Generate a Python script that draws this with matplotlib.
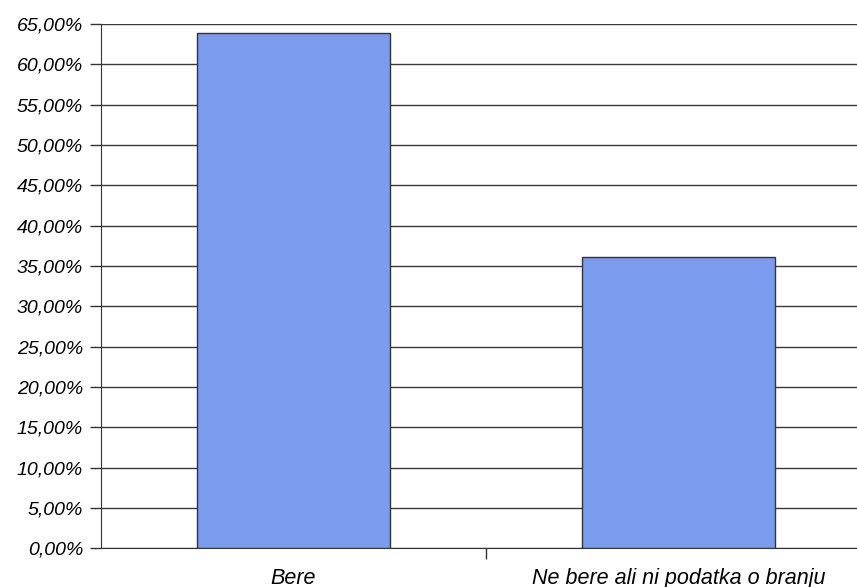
import matplotlib.pyplot as plt
from matplotlib.ticker import FixedLocator, FuncFormatter

# podatki
kategorije = ['Bere', 'Ne bere ali ni podatka o branju']
deleži = [63.9, 36.1]
y_ticks = [0, 5, 10, 15, 20, 25, 30, 35, 40, 45, 50, 55, 60, 65]

plt.rcParams['font.family'] = ['Liberation Sans', 'DejaVu Sans']

fig = plt.figure(figsize=(8.57, 5.87), dpi=100)
ax = fig.add_axes([0.118, 0.066, 0.882, 0.893])

x = list(range(len(kategorije)))
ax.bar(x, deleži, width=0.5, color='#7b9bee', edgecolor='#333333',
       linewidth=1.0, zorder=3)

ax.set_ylim(0, 65)
ax.set_xlim(-0.5, 1.464)
ax.set_yticks(y_ticks)
ax.yaxis.set_major_formatter(FuncFormatter(lambda v, p: f'{v:.2f}%'.replace('.', ',')))
ax.grid(axis='y', color='#3a3a3a', linewidth=1.0, zorder=1)

# kategorije
ax.set_xticks(x)
ax.set_xticklabels(kategorije, fontsize=15.5, style='italic')
ax.xaxis.set_minor_locator(FixedLocator([0.5]))
ax.tick_params(axis='x', which='major', length=0, pad=14)
ax.tick_params(axis='x', which='minor', length=8, width=1, color='#333333')
ax.tick_params(axis='y', length=8, width=1, color='#333333', pad=5)
for lbl in ax.get_yticklabels():
    lbl.set_fontsize(14)
    lbl.set_fontstyle('italic')

ax.spines['top'].set_visible(False)
ax.spines['right'].set_visible(False)
ax.spines['left'].set_color('#333333')
ax.spines['bottom'].set_color('#333333')

plt.savefig('out.png', dpi=100)
